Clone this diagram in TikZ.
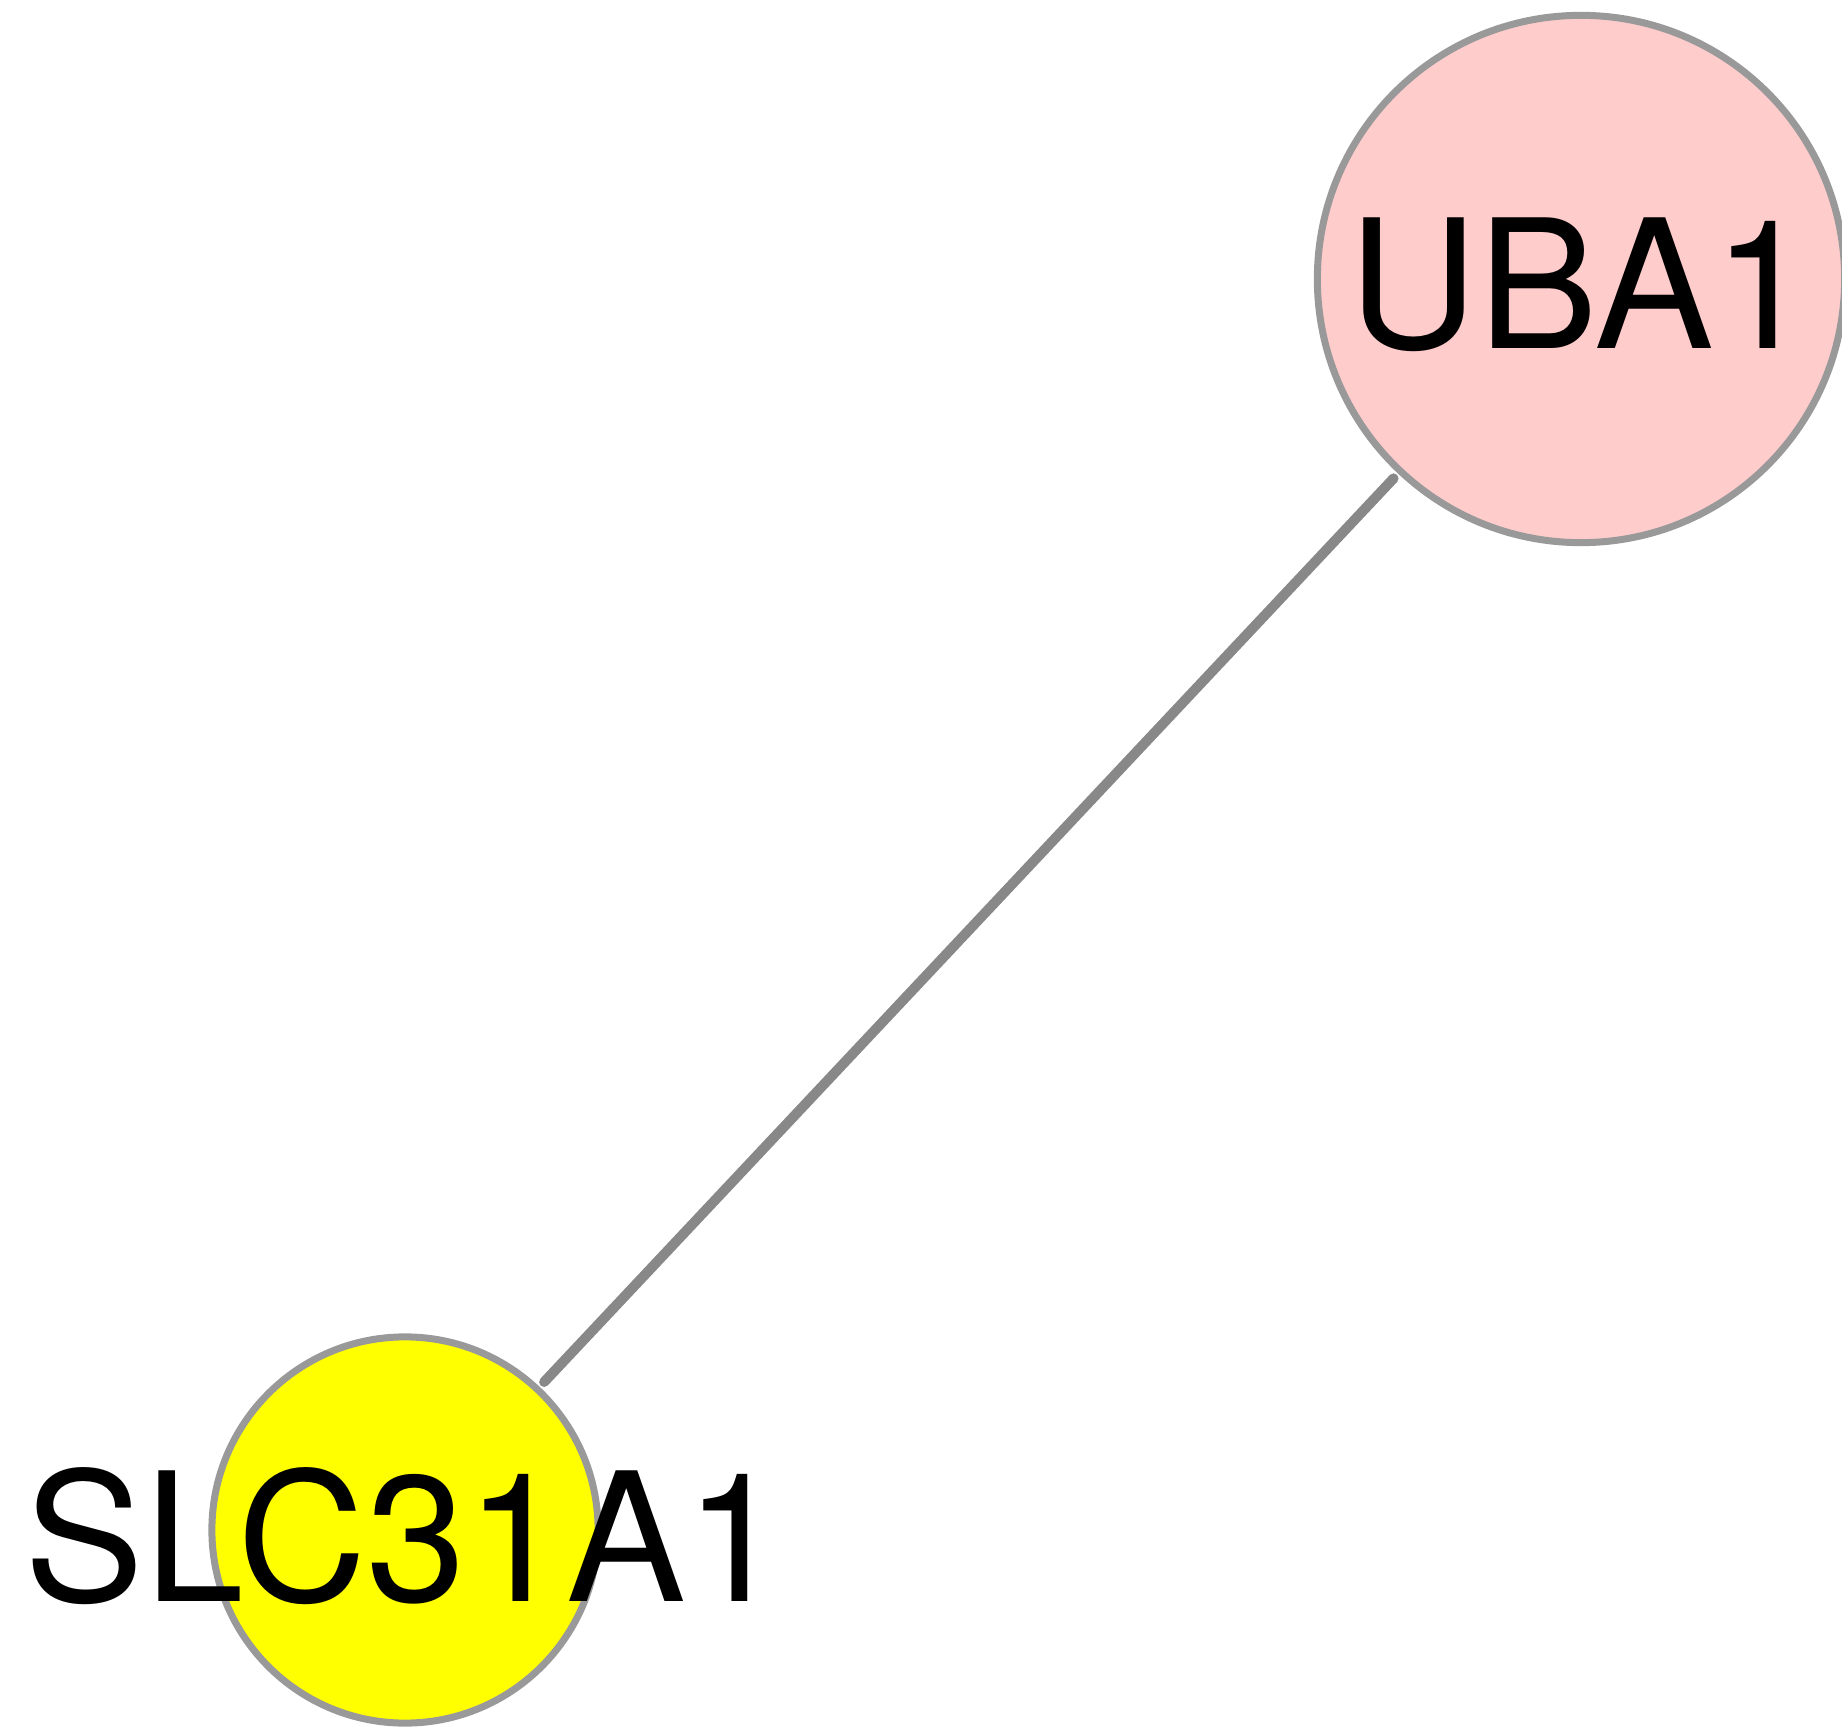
\documentclass[tikz,border=0pt]{standalone}
\usepackage{fontspec}
\setmainfont{TeX Gyre Heros}
\usepackage{tikz}
\usetikzlibrary{positioning}
\definecolor{node-border}{HTML}{999999}
\definecolor{edge-gray}{HTML}{888888}
\definecolor{gene-pink}{HTML}{FFCCCC}
\definecolor{gene-yellow}{HTML}{FFFF00}

\begin{document}
\begin{tikzpicture}[x=0.01cm, y=-0.01cm,
    gene/.style={draw=node-border, line width=0.07cm, circle, inner sep=0pt, outer sep=0.1cm},
    genelabel/.style={font=\fontsize{51pt}{60pt}\selectfont, inner sep=0pt, yshift=-0.06cm},
    link/.style={draw=edge-gray, line width=0.1cm, line cap=round}]
    \useasboundingbox (0,0) rectangle (1842,1728);
    \clip (0,0) rectangle (1842,1728);
    \node[gene, fill=gene-pink, minimum size=5.27cm] (UBA1) at (1581,279) {};
    \node[gene, fill=gene-yellow, minimum size=3.86cm] (SLC31A1) at (405,1530) {};
    \node[genelabel] (UBA1-text) at (UBA1) {UBA1};
    \node[genelabel] (SLC31A1-text) at (SLC31A1) {SLC31A1};
    \draw[link] (UBA1) -- (SLC31A1);
\end{tikzpicture}
\end{document}
